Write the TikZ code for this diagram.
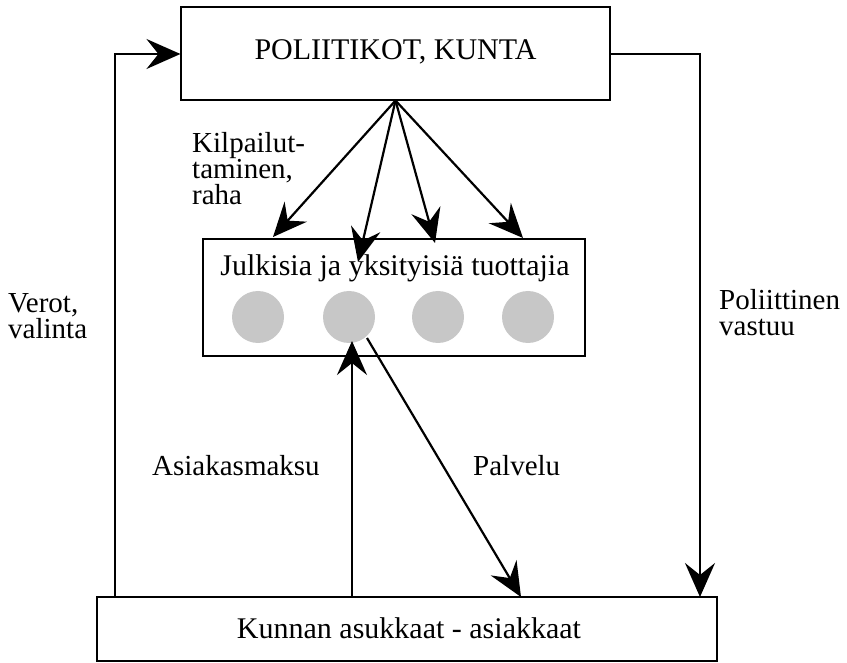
\documentclass[tikz,border=0pt]{standalone}
\usepackage{fontspec}
\setmainfont{Liberation Serif}
\usetikzlibrary{arrows.meta}
\tikzset{
  boxnode/.style={draw=black, line width=1.1pt, inner sep=0pt},
  conn/.style={line width=2.2pt, -{Stealth[length=34pt,width=30pt,inset=12pt]}},
  lbl/.style={font=\fontsize{29}{26}\selectfont, align=left, inner sep=0pt},
  boxtext/.style={font=\fontsize{30}{30}\selectfont, inner sep=0pt},
  dot/.style={circle, fill=black!22, minimum size=52pt, inner sep=0pt}
}
\begin{document}
\begin{tikzpicture}[x=1pt,y=-1pt]
\useasboundingbox (0,0) rectangle (847,663);
% boxes
\node[boxnode, minimum width=429pt, minimum height=93pt] (top) at (395.5,53.5) {};
\node[boxtext] (toptext) at (395.5,52) {POLIITIKOT, KUNTA};
\node[boxnode, minimum width=382pt, minimum height=117pt] (mid) at (394,297.5) {};
\node[boxtext, anchor=base] (midtext) at (395,276) {Julkisia ja yksityisiä tuottajia};
\node[boxnode, minimum width=620pt, minimum height=64pt] (bot) at (407,629) {};
\node[boxtext] (bottext) at (409,628) {Kunnan asukkaat - asiakkaat};
% producers
\node[dot] (p1) at (258,317) {};
\node[dot] (p2) at (349,317) {};
\node[dot] (p3) at (438,317) {};
\node[dot] (p4) at (528,317) {};
% arrow end points
\coordinate (e1) at (273,237);
\coordinate (e2) at (358,262);
\coordinate (e3) at (435,243);
\coordinate (e4) at (523,238);
\coordinate (ltop) at (115,54);
\coordinate (lbot) at (115,597);
\coordinate (rtop) at (700,54);
\coordinate (rbot) at (700,597);
\coordinate (upend) at (352,341);
\coordinate (upstart) at (352,597);
\coordinate (pstart) at (367,338);
\coordinate (pend) at (521,597);
% connectors
\draw[conn] (top.south) -- (e1);
\draw[conn] (top.south) -- (e2);
\draw[conn] (top.south) -- (e3);
\draw[conn] (top.south) -- (e4);
\draw[conn] (lbot) -- (ltop) -- (top.west |- ltop);
\draw[conn] (top.east |- rtop) -- (rtop) -- (rbot);
\draw[conn] (upstart) -- (upend);
\draw[conn] (pstart) -- (pend);
% labels
\node[lbl, anchor=base west] (l1) at (192,205) {Kilpailut-\\taminen,\\raha};
\node[lbl, anchor=base west] (l2) at (8,338) {Verot,\\valinta};
\node[lbl, anchor=base west] (l3) at (719,336) {Poliittinen\\vastuu};
\node[lbl, anchor=base west] (l4) at (152,475) {Asiakasmaksu};
\node[lbl, anchor=base west] (l5) at (473,475) {Palvelu};
\end{tikzpicture}
\end{document}
